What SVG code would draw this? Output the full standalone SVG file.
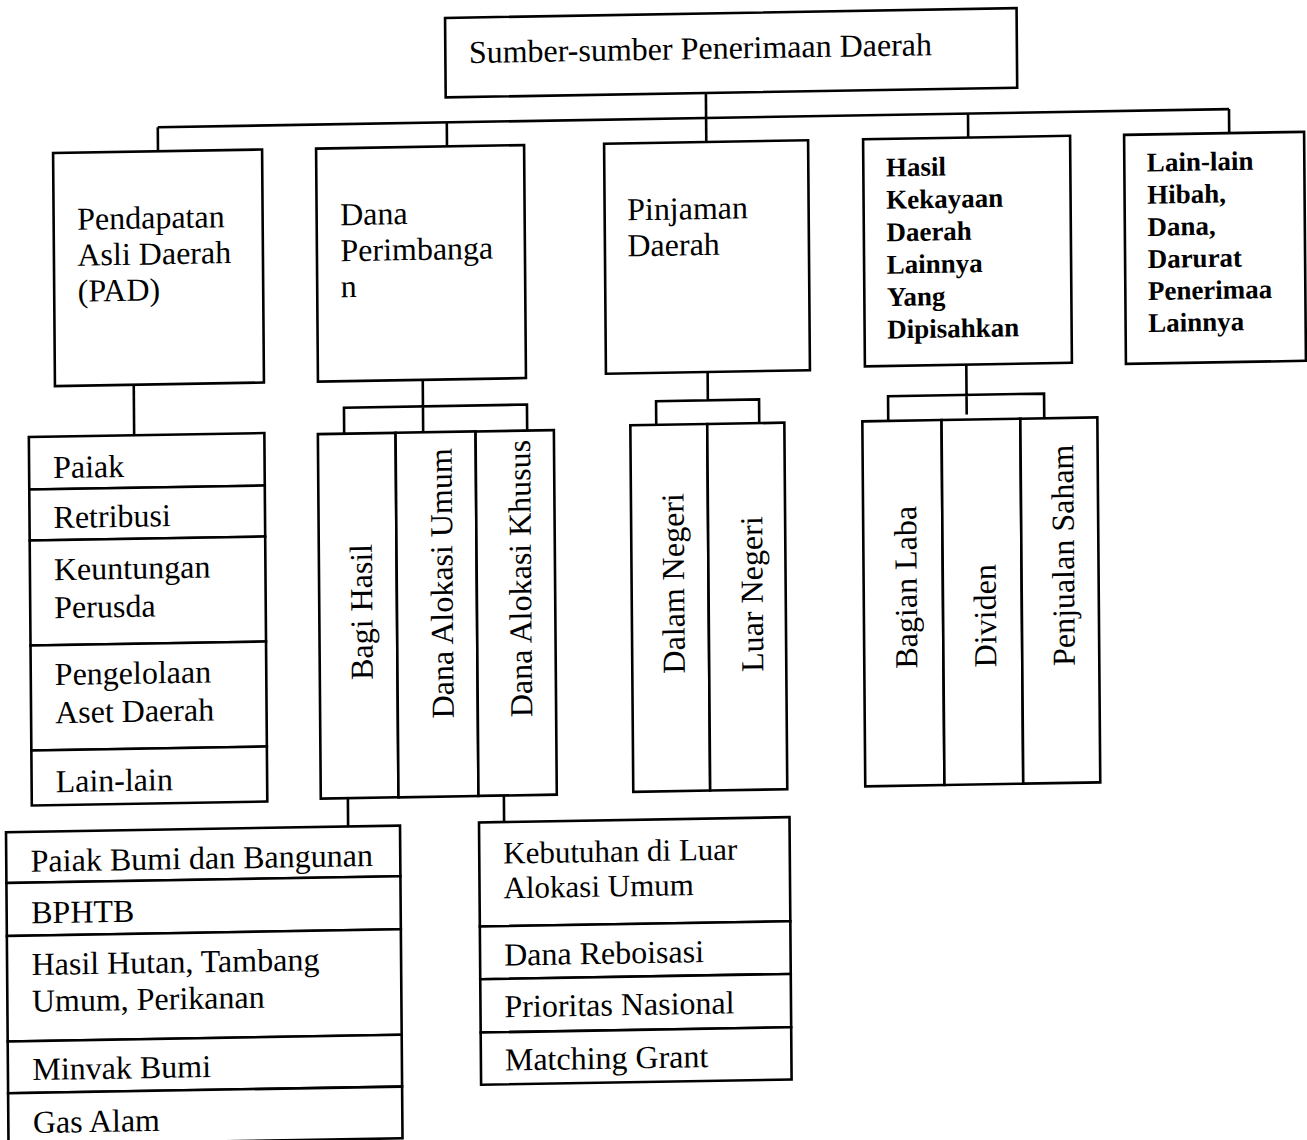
<svg xmlns="http://www.w3.org/2000/svg" width="1307" height="1140" viewBox="0 0 1307 1140">
<style>
.box{fill:#fff;stroke:#000;stroke-width:2.6}
.ln{fill:none;stroke:#000;stroke-width:2.6}
text{font-family:"Liberation Serif","Times New Roman",serif;font-size:32px;fill:#000}
.b{font-size:27px;font-weight:bold}
.s{font-size:31px}
</style>
<rect x="0" y="0" width="1307" height="1140" fill="#fff"/>
<g transform="matrix(1,-0.017,0.008,1,-4.56,11.05)">
<g id="connectors">
<path class="ln" d="M709.7 94 V143"/>
<path class="ln" d="M161.4 119 H1232.6"/>
<path class="ln" d="M161.4 119 V143 M450.4 119 V143 M971.6 119 V143 M1232.6 119 V143"/>
<path class="ln" d="M135.3 376 V426.5"/>
<path class="ln" d="M424.3 376 V428.5 M345.3 428.5 V402.5 H528.3 V428.5"/>
<path class="ln" d="M709.2 373 V401.3 M657.4 425 V401.3 H760.4 V425"/>
<path class="ln" d="M967.9 370 V420 M889.4 425 V400.3 H1045.4 V425"/>
<path class="ln" d="M346.1 793 V821.3 M502.1 793 V819.5"/>
</g>
<g id="n-root"><rect class="box" x="449.5" y="14.5" width="571.5" height="79.5"/><text x="473" y="60">Sumber-sumber Penerimaan Daerah</text></g>
<g id="n-pad"><rect class="box" x="56.5" y="143" width="209" height="233"/><text x="80" y="220">Pendapatan</text><text x="80" y="256">Asli Daerah</text><text x="80" y="292">(PAD)</text></g>
<g id="n-dana"><rect class="box" x="319.5" y="143" width="208" height="233"/><text x="343" y="220">Dana</text><text x="343" y="256">Perimbanga</text><text x="343" y="292">n</text></g>
<g id="n-pinjaman"><rect class="box" x="607.5" y="143" width="204" height="230"/><text x="630" y="220">Pinjaman</text><text x="630" y="256">Daerah</text></g>
<g id="n-hasil"><rect class="box" x="866.5" y="143" width="207" height="227"/>
<text class="b" x="889" y="180.5">Hasil</text><text class="b" x="889" y="212.9">Kekayaan</text><text class="b" x="889" y="245.3">Daerah</text><text class="b" x="889" y="277.7">Lainnya</text><text class="b" x="889" y="310.1">Yang</text><text class="b" x="889" y="342.5">Dipisahkan</text></g>
<g id="n-lain"><rect class="box" x="1127.5" y="143" width="180" height="229"/>
<text class="b" x="1150" y="180">Lain-lain</text><text class="b" x="1150" y="212.2">Hibah,</text><text class="b" x="1150" y="244.4">Dana,</text><text class="b" x="1150" y="276.6">Darurat</text><text class="b" x="1150" y="308.6">Penerimaa</text><text class="b" x="1150" y="340.5">Lainnya</text></g>
<g id="n-paiak"><rect class="box" x="30" y="426.5" width="235.5" height="52.5"/><text x="54" y="468">Paiak</text></g>
<g id="n-retribusi"><rect class="box" x="30" y="479" width="235.5" height="51"/><text x="54" y="518">Retribusi</text></g>
<g id="n-keuntungan"><rect class="box" x="30" y="530" width="235.5" height="105"/><text x="54" y="570">Keuntungan</text><text x="54" y="608">Perusda</text></g>
<g id="n-pengelolaan"><rect class="box" x="30" y="635" width="235.5" height="105"/><text x="54" y="675">Pengelolaan</text><text x="54" y="713">Aset Daerah</text></g>
<g id="n-lainlain-pad"><rect class="box" x="30" y="740" width="235.5" height="55"/><text x="54" y="782">Lain-lain</text></g>
<g id="n-bagihasil"><rect class="box" x="319" y="428.5" width="77.7" height="364.5"/><text transform="translate(372,675) rotate(-90)">Bagi Hasil</text></g>
<g id="n-dau"><rect class="box" x="396.7" y="428.5" width="80" height="364.5"/><text transform="translate(452.5,715) rotate(-90)">Dana Alokasi Umum</text></g>
<g id="n-dak"><rect class="box" x="476.7" y="428.5" width="78.3" height="364.5"/><text transform="translate(531,715) rotate(-90)">Dana Alokasi Khusus</text></g>
<g id="n-dalam"><rect class="box" x="631.5" y="425" width="76.9" height="366.5"/><text transform="translate(684,674) rotate(-90)">Dalam Negeri</text></g>
<g id="n-luar"><rect class="box" x="708.4" y="425" width="77.1" height="366.5"/><text transform="translate(762.5,673.6) rotate(-90)">Luar Negeri</text></g>
<g id="n-bagianlaba"><rect class="box" x="863.5" y="425" width="79.2" height="365"/><text transform="translate(916.5,673) rotate(-90)">Bagian Laba</text></g>
<g id="n-dividen"><rect class="box" x="942.7" y="425" width="78.8" height="365"/><text transform="translate(995.5,673) rotate(-90)">Dividen</text></g>
<g id="n-penjualan"><rect class="box" x="1021.5" y="425" width="77" height="365"/><text transform="translate(1074,673) rotate(-90)">Penjualan Saham</text></g>
<g id="n-pbb"><rect class="box" x="4" y="821.3" width="394" height="50.7"/><text x="28.5" y="861.2">Paiak Bumi dan Bangunan</text></g>
<g id="n-bphtb"><rect class="box" x="4" y="872" width="394" height="53"/><text x="28.5" y="912.8">BPHTB</text></g>
<g id="n-hutan"><rect class="box" x="4" y="925" width="394" height="105.5"/><text x="28.5" y="964.5">Hasil Hutan, Tambang</text><text x="28.5" y="1001.2">Umum, Perikanan</text></g>
<g id="n-minyak"><rect class="box" x="4" y="1030.5" width="394" height="51.8"/><text x="28.5" y="1069.5">Minvak Bumi</text></g>
<g id="n-gas"><rect class="box" x="4" y="1082.3" width="394" height="51.7"/><text x="28.5" y="1122.5">Gas Alam</text></g>
<g id="n-kebutuhan"><rect class="box" x="477" y="819.5" width="310.5" height="104.1"/><text class="s" x="501" y="861">Kebutuhan di Luar</text><text class="s" x="501" y="895.8">Alokasi Umum</text></g>
<g id="n-reboisasi"><rect class="box" x="477" y="923.6" width="310.5" height="52.7"/><text x="501" y="963">Dana Reboisasi</text></g>
<g id="n-prioritas"><rect class="box" x="477" y="976.3" width="310.5" height="53.3"/><text x="501" y="1014.8">Prioritas Nasional</text></g>
<g id="n-matching"><rect class="box" x="477" y="1029.6" width="310.5" height="52.2"/><text x="501" y="1068">Matching Grant</text></g>
</g>
</svg>
